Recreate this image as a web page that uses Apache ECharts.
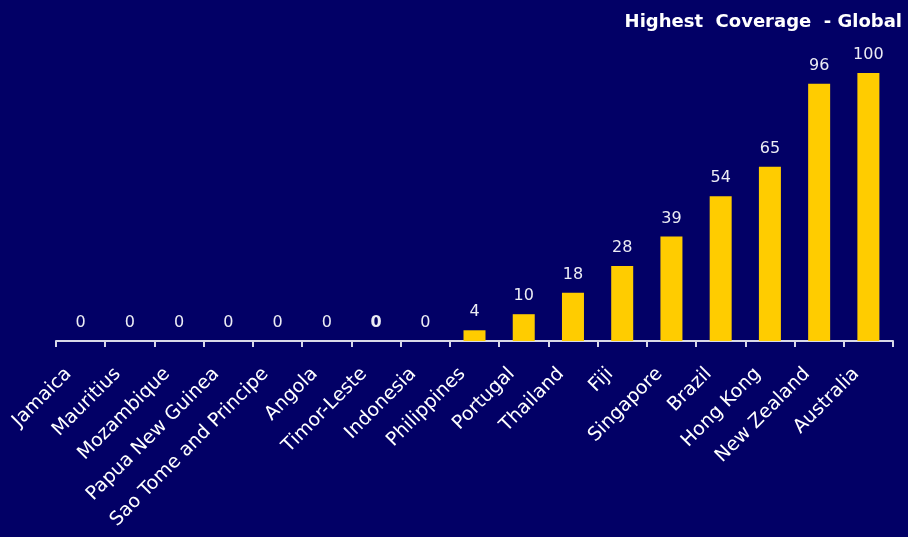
<!DOCTYPE html>
<html>
<head>
<meta charset="utf-8">
<script src="https://cdn.jsdelivr.net/npm/echarts@6/dist/echarts.min.js"></script>
<style>
  html, body { margin: 0; padding: 0; background: #020066; }
  #chart { width: 908px; height: 537px; }
</style>
</head>
<body>
<div id="chart"></div>
<script>
const countries = ['Jamaica', 'Mauritius', 'Mozambique', 'Papua New Guinea', 'Sao Tome and Principe',
  'Angola', 'Timor-Leste', 'Indonesia', 'Philippines', 'Portugal', 'Thailand', 'Fiji',
  'Singapore', 'Brazil', 'Hong Kong', 'New Zealand', 'Australia']
const coverage = [0, 0, 0, 0, 0, 0, 0, 0, 4, 10, 18, 28, 39, 54, 65, 96, 100]
const boldLabels = ['Timor-Leste']

const chart = echarts.init(document.getElementById('chart'))

const seriesData = coverage.map((v, i) => {
  const item = { value: v }
  if (boldLabels.includes(countries[i])) item.label = { fontWeight: 'bold' }
  return item
})

chart.setOption({
  backgroundColor: '#020066',
  animation: false,
  textStyle: { fontFamily: 'DejaVu Sans, Verdana, sans-serif' },
  title: {
    text: 'Highest  Coverage  - Global',
    right: 1,
    top: 8,
    textStyle: { color: '#ffffff', fontSize: 18, fontWeight: 'bold', fontFamily: 'DejaVu Sans, Verdana, sans-serif' }
  },
  grid: { left: 56, right: 15, top: 73, bottom: 196, containLabel: false },
  xAxis: {
    type: 'category',
    data: countries,
    axisLine: { lineStyle: { color: '#d8d8e8', width: 2 } },
    axisTick: { show: true, length: 6, lineStyle: { color: '#d8d8e8', width: 2 } },
    axisLabel: {
      interval: 0,
      rotate: 45,
      color: '#ffffff',
      fontSize: 19,
      margin: 18,
      padding: [0, 17, 0, 0]
    }
  },
  yAxis: {
    type: 'value',
    min: 0,
    max: 100,
    show: false
  },
  series: [{
    type: 'bar',
    data: seriesData,
    barWidth: 22,
    itemStyle: { color: '#ffcc00' },
    label: {
      show: true,
      position: 'top',
      distance: 10,
      color: '#ececf4',
      fontSize: 16
    }
  }]
})
</script>
</body>
</html>
